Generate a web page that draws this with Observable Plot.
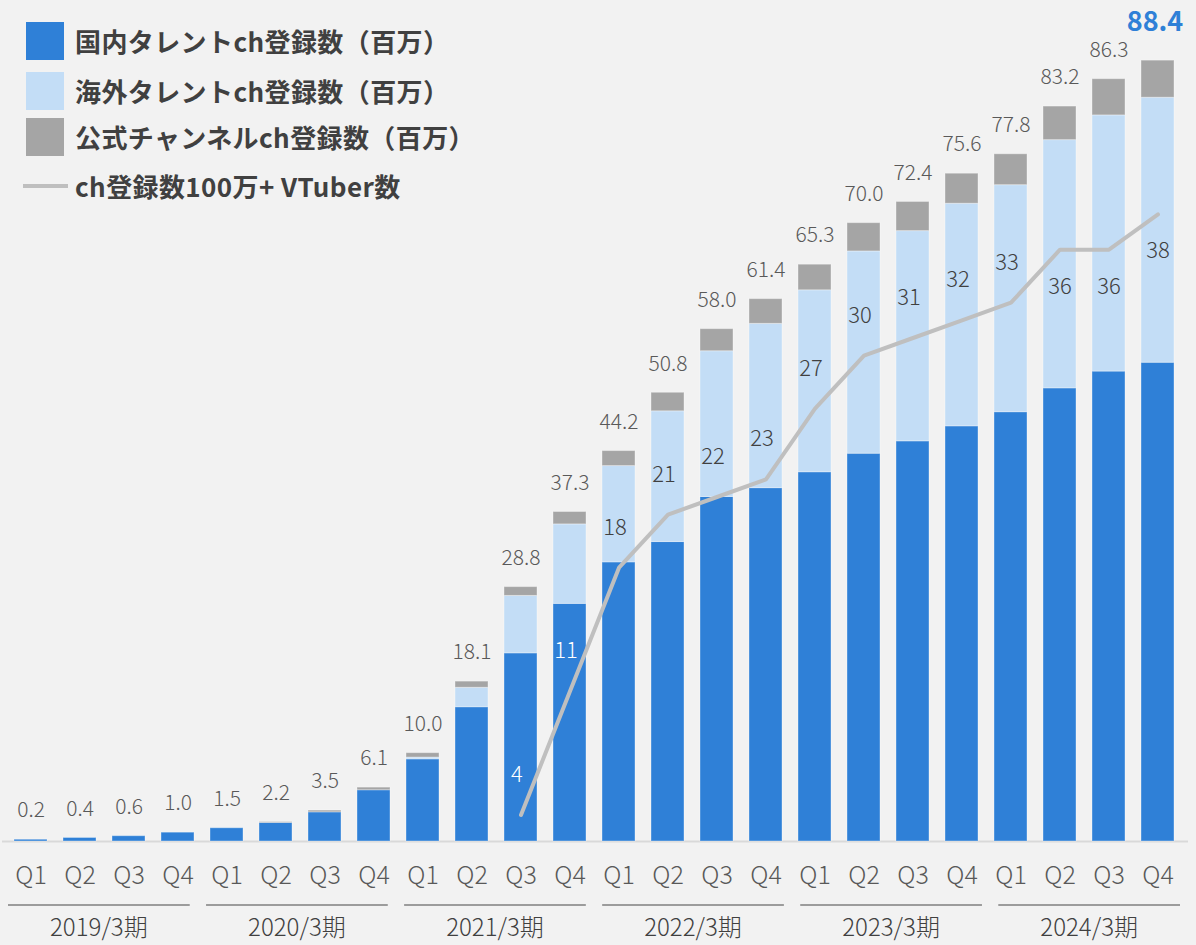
<!DOCTYPE html>
<html><head><meta charset="utf-8">
<script src="https://cdn.jsdelivr.net/npm/d3@7"></script>
<script src="https://cdn.jsdelivr.net/npm/@observablehq/plot@0.6"></script>
<style>
html,body{margin:0;padding:0;background:#f2f2f2;}
#wrap{position:relative;width:1196px;height:945px;overflow:hidden;font-family:"Noto Sans CJK JP","Noto Sans",sans-serif;}
#wrap svg{position:absolute;left:0;top:0;background:#f2f2f2;}
.legend{position:absolute;left:0;top:0;width:520px;height:210px;}
.lt{position:absolute;left:75px;font-size:26px;letter-spacing:0.4px;font-weight:700;color:#404040;line-height:1;white-space:nowrap;transform:translateY(-50%);}
.sw{position:absolute;left:26px;width:38px;height:38px;}
.ln{position:absolute;left:23px;width:45px;height:4px;background:#bfbfbf;}
</style></head>
<body><div id="wrap"></div>
<script>
// ---- data ----
const years = ["2019/3期", "2020/3期", "2021/3期", "2022/3期", "2023/3期", "2024/3期"];
const quarters = ["Q1", "Q2", "Q3", "Q4"];
const seriesNames = ["国内タレントch登録数（百万）", "海外タレントch登録数（百万）", "公式チャンネルch登録数（百万）"];
const lineName = "ch登録数100万+ VTuber数";
const domestic = [0.2, 0.4, 0.6, 1.0, 1.5, 2.1, 3.3, 5.8, 9.3, 15.2, 21.3, 26.9, 31.6, 33.9, 39.0, 40.0, 41.8, 43.9, 45.3, 47.0, 48.6, 51.3, 53.2, 54.2];
const overseas = [0, 0, 0, 0, 0, 0, 0, 0, 0.2, 2.2, 6.5, 9.0, 10.9, 14.8, 16.5, 18.6, 20.6, 22.9, 23.8, 25.2, 25.7, 28.1, 29.0, 30.0];
const official = [0, 0, 0, 0, 0, 0.1, 0.2, 0.3, 0.5, 0.7, 1.0, 1.4, 1.7, 2.1, 2.5, 2.8, 2.9, 3.2, 3.3, 3.4, 3.5, 3.8, 4.1, 4.2];
const totals = [0.2, 0.4, 0.6, 1.0, 1.5, 2.2, 3.5, 6.1, 10.0, 18.1, 28.8, 37.3, 44.2, 50.8, 58.0, 61.4, 65.3, 70.0, 72.4, 75.6, 77.8, 83.2, 86.3, 88.4];
const vtubers = [null, null, null, null, null, null, null, null, null, null, 4, 11, 18, 21, 22, 23, 27, 30, 31, 32, 33, 36, 36, 38];
// secondary axis (VTuber count) range mapped onto the primary axis range
const primaryDomain = [0, 90];
const secondaryDomain = [2.5, 47.5];

// ---- colours ----
const colors = ["#2f80d7", "#c3ddf6", "#a5a5a5"];
const lineColor = "#bfbfbf";

// ---- tables built from the arrays ----
const keys = years.flatMap(y => quarters.map(q => `${y} ${q}`));
const seriesVals = [domestic, overseas, official];
const stackRows = [];
keys.forEach((k, i) => seriesNames.forEach((s, j) => {
  if (seriesVals[j][i] > 0) stackRows.push({key: k, series: s, value: seriesVals[j][i]});
}));
const totalRows = keys.map((k, i) => ({key: k, total: totals[i], last: i === keys.length - 1}));
const qRows = keys.map((k, i) => ({key: k, q: quarters[i % 4]}));
const toPrimary = v => primaryDomain[0] + (v - secondaryDomain[0]) * (primaryDomain[1] - primaryDomain[0]) / (secondaryDomain[1] - secondaryDomain[0]);
const vtRows = keys.map((k, i) => ({key: k, count: vtubers[i], dom: domestic[i]})).filter(d => d.count != null);
const labelAbove = vtRows.filter(d => d.count < 36);
const labelBelow = vtRows.filter(d => d.count >= 36);

const font = "'Noto Sans CJK JP', 'Noto Sans', sans-serif";

const chart = Plot.plot({
  width: 1196,
  height: 945,
  marginTop: 46,
  marginBottom: 104,
  marginLeft: 8,
  marginRight: 16,
  style: {background: "#f2f2f2", fontFamily: font, color: "#595959"},
  x: {type: "band", domain: keys, paddingInner: 0.33, paddingOuter: 0, axis: null},
  y: {domain: primaryDomain, axis: null},
  color: {domain: seriesNames, range: colors},
  marks: [
    Plot.ruleY([0], {stroke: "#d9d9d9", strokeWidth: 2, insetLeft: -6, insetRight: -8}),
    Plot.barY(stackRows, {x: "key", y: "value", fill: "series", stroke: "#ffffff", strokeOpacity: 0.35, strokeWidth: 1}),
    Plot.line(vtRows, {x: "key", y: d => toPrimary(d.count), stroke: lineColor, strokeWidth: 4, strokeLinejoin: "miter"}),
    Plot.text(labelAbove, {x: "key", y: d => toPrimary(d.count), text: d => String(d.count), dy: -40, dx: -4,
      fill: d => (toPrimary(d.count) + 4.5 < d.dom ? "#ffffff" : "#404040"), fontSize: 22, fontWeight: 300}),
    Plot.text(labelBelow, {x: "key", y: d => toPrimary(d.count), text: d => String(d.count), dy: 37,
      fill: "#404040", fontSize: 22, fontWeight: 300}),
    Plot.text(totalRows.filter(d => !d.last), {x: "key", y: "total", text: d => d.total.toFixed(1), dy: -29, fill: "#595959", fontSize: 21, fontWeight: 300}),
    Plot.text(totalRows.filter(d => d.last), {x: "key", y: "total", text: d => d.total.toFixed(1), dy: -38, dx: -3, fill: "#2f80d7", fontSize: 27, fontWeight: "bold"}),
    Plot.text(qRows, {x: "key", y: () => 0, text: "q", dy: 34, fill: "#595959", fontSize: 25, fontWeight: 300})
  ]
});

const wrap = document.getElementById("wrap");
wrap.appendChild(chart);

// year group underlines and labels, positioned via the chart's x and y scales
const sx = chart.scale("x");
const band = d3.scaleBand().domain(sx.domain).range(sx.range)
  .paddingInner(sx.paddingInner ?? 0.33).paddingOuter(sx.paddingOuter ?? 0).align(sx.align ?? 0.5);
const sy = chart.scale("y");
const y0 = sy.apply ? sy.apply(0) : sy.range[0];
const svg = d3.select(chart);
const g = svg.append("g");
years.forEach(y => {
  const x1 = band(`${y} ${quarters[0]}`);
  const x2 = band(`${y} ${quarters[quarters.length - 1]}`) + band.bandwidth();
  g.append("line").attr("x1", x1).attr("x2", x2).attr("y1", y0 + 64).attr("y2", y0 + 64)
    .attr("stroke", "#7f7f7f").attr("stroke-width", 1.5);
  g.append("text").attr("x", (x1 + x2) / 2).attr("y", y0 + 87).attr("dy", "0.35em")
    .attr("text-anchor", "middle").attr("fill", "#404040").attr("font-size", 24)
    .attr("font-weight", 300).attr("font-family", font).text(y);
});

// legend
const legend = document.createElement("div");
legend.className = "legend";
const swTops = [22, 72, 118];
seriesNames.forEach((s, i) => {
  const sw = document.createElement("div");
  sw.className = "sw"; sw.style.top = swTops[i] + "px"; sw.style.background = colors[i];
  legend.appendChild(sw);
  const t = document.createElement("div");
  t.className = "lt"; t.style.top = (swTops[i] + 19) + "px"; t.textContent = s;
  legend.appendChild(t);
});
const ln = document.createElement("div");
ln.className = "ln"; ln.style.top = "184px";
legend.appendChild(ln);
const lt = document.createElement("div");
lt.className = "lt"; lt.style.top = "186px"; lt.textContent = lineName;
legend.appendChild(lt);
wrap.appendChild(legend);
</script>
</body></html>
